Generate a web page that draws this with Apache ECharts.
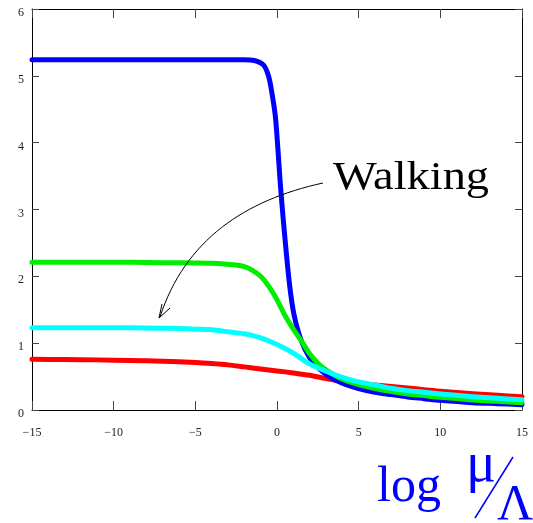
<!DOCTYPE html>
<html>
<head lang="en">
    <meta charset="UTF-8">
    <title></title>
    <script type="text/javascript" src="https://cdn.jsdelivr.net/npm/echarts@6/dist/echarts.min.js"></script>
</head>
<body style="margin:0;background:#fff">
<div id="main" style="width:533px;height:523px;"></div>
</body>
</html>
<script type="text/javascript">
    // curves, [log mu/Lambda, value]
    var redCurve = [[-15, 0.76], [-13, 0.755], [-11, 0.75], [-9, 0.74], [-7, 0.73], [-5, 0.71], [-4, 0.695],
        [-3, 0.675], [-2, 0.645], [-1, 0.615], [0, 0.585], [1, 0.555], [2, 0.52], [3, 0.47], [4, 0.43],
        [5, 0.4], [6, 0.375], [7, 0.35], [8, 0.328], [9, 0.305], [10, 0.28], [12, 0.245], [13.5, 0.22], [15, 0.2]];
    var blueCurve = [[-15, 5.24], [-12, 5.24], [-9, 5.24], [-6, 5.24], [-4, 5.24], [-3, 5.24], [-2, 5.24],
        [-1.4, 5.23], [-0.82, 5.16], [-0.51, 4.99], [-0.31, 4.74],
        [-0.1, 4.39], [0.06, 3.89], [0.2, 3.39], [0.38, 2.86], [0.57, 2.35], [0.78, 1.85], [1.02, 1.45],
        [1.33, 1.15], [1.73, 0.9], [2.25, 0.7], [3.06, 0.52], [4, 0.4], [5, 0.32], [6, 0.265], [7, 0.23],
        [8, 0.195], [9, 0.17], [10, 0.145], [12, 0.11], [13.5, 0.095], [15, 0.08]];
    var greenCurve = [[-15, 2.21], [-13, 2.21], [-11, 2.21], [-9, 2.21], [-7, 2.205], [-5, 2.2], [-4, 2.195],
        [-3, 2.18], [-2.5, 2.17], [-2, 2.145], [-1.5, 2.09], [-1, 2.0], [-0.5, 1.85], [0, 1.65], [0.5, 1.41],
        [1, 1.21], [1.5, 1.03], [2, 0.84], [2.5, 0.7], [3, 0.6], [4, 0.46], [5, 0.38], [6, 0.32], [7, 0.275],
        [8, 0.24], [9, 0.215], [10, 0.19], [12, 0.15], [13.5, 0.13], [15, 0.11]];
    var cyanCurve = [[-15, 1.23], [-13, 1.23], [-11, 1.23], [-9, 1.23], [-7, 1.225], [-6, 1.22], [-5, 1.21],
        [-4, 1.2], [-3, 1.17], [-2, 1.14], [-1, 1.08], [0, 0.98], [1, 0.85], [2, 0.69], [3, 0.58], [4, 0.49],
        [5, 0.42], [6, 0.375], [7, 0.325], [8, 0.29], [9, 0.265], [10, 0.24], [12, 0.2], [13.5, 0.175], [15, 0.155]];
    var xTicks = [-15, 15, 5];   // min, max, step
    var yTicks = [0, 6, 1];

    var serif = '"Liberation Serif", "DejaVu Serif", serif';
    var myChart = echarts.init(document.getElementById('main'));

    function minus(v) {
        return v < 0 ? '\u2212' + Math.abs(v) : String(v);
    }

    function axis(pos, showLabel, tickLen) {
        var horiz = pos === 'bottom' || pos === 'top';
        var t = horiz ? xTicks : yTicks;
        return {
            type: 'value',
            position: pos,
            min: t[0],
            max: t[1],
            interval: t[2],
            axisLine: {show: true, onZero: false, lineStyle: {color: '#000', width: 1}},
            axisTick: {show: true, inside: true, length: tickLen, lineStyle: {color: '#444', width: 1}},
            axisLabel: {
                show: showLabel,
                formatter: minus,
                fontFamily: serif,
                fontSize: 12,
                color: '#222',
                margin: horiz ? 16 : 8,
                verticalAlign: horiz ? null : 'top',
                lineHeight: horiz ? 14 : 8
            },
            splitLine: {show: false}
        };
    }

    function curve(name, data, color, z) {
        return {
            name: name,
            type: 'line',
            data: data,
            showSymbol: false,
            smooth: 0.3,
            z: z,
            lineStyle: {color: color, width: 5, cap: 'round', join: 'round'},
            silent: true
        };
    }

    option = {
        animation: false,
        backgroundColor: '#fff',
        grid: {left: 32, right: 11, top: 9, bottom: 113, outerBoundsMode: 'none'},
        xAxis: [axis('bottom', true, 9), axis('top', false, 9)],
        yAxis: [axis('left', true, 7), axis('right', false, 7)],
        series: [
            curve('red', redCurve, '#ff0000', 2),
            curve('blue', blueCurve, '#0000ff', 3),
            curve('green', greenCurve, '#00ee00', 4),
            curve('cyan', cyanCurve, '#00ffff', 5)
        ],
        graphic: [
            // annotation
            {type: 'text', x: 333, y: 158, scaleX: 1.16,
                style: {x: 0, y: 0, text: 'Walking', font: '40px ' + serif, fill: '#000'}, z: 10},
            {type: 'bezierCurve', shape: {x1: 323, y1: 183, cpx1: 245, cpy1: 200, cpx2: 185, cpy2: 240, x2: 160, y2: 317},
                style: {stroke: '#000', lineWidth: 1, fill: null}, z: 10},
            {type: 'polyline', shape: {points: [[170, 308], [159, 318], [162, 304]]},
                style: {stroke: '#000', lineWidth: 1, fill: null}, z: 10},
            // axis title  log mu/Lambda
            {type: 'text', style: {x: 377, y: 463, text: 'log', font: '50px ' + serif, fill: '#0000ff'}, z: 10},
            {type: 'text', style: {x: 466, y: 438, text: 'μ', font: '56px ' + serif, fill: '#0000ff'}, z: 10},
            {type: 'line', shape: {x1: 475, y1: 518, x2: 513, y2: 457}, style: {stroke: '#0000ff', lineWidth: 1.5}, z: 10},
            {type: 'text', style: {x: 497, y: 481, text: 'Λ', font: '50px ' + serif, fill: '#0000ff'}, z: 10}
        ]
    };
    myChart.setOption(option);
</script>
